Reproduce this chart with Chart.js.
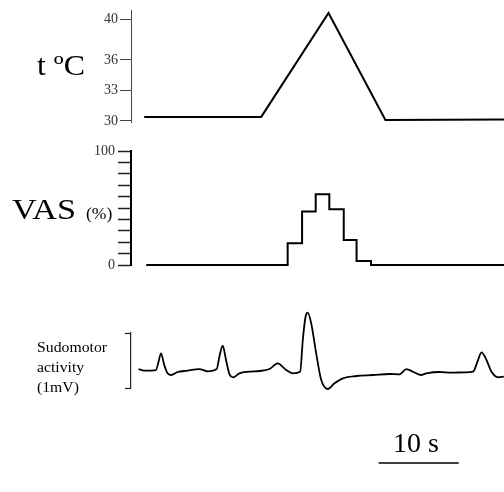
<!DOCTYPE html>
<html>
<head>
<meta charset="utf-8">
<script src="https://cdn.jsdelivr.net/npm/chart.js@4.4.1/dist/chart.umd.min.js"></script>
<style>
  html, body { margin: 0; padding: 0; background: #fff; }
  body { width: 504px; height: 492px; position: relative; overflow: hidden;
         font-family: "Liberation Serif", "Times New Roman", serif; color: #000; }
  canvas { position: absolute; left: 0; }
  .lbl { position: absolute; white-space: nowrap; line-height: 1; transform-origin: left top; }
</style>
</head>
<body>
<canvas id="tempChart" width="504" height="130" style="top:0"></canvas>
<canvas id="vasChart" width="504" height="135" style="top:140px"></canvas>
<canvas id="sudoChart" width="504" height="192" style="top:300px"></canvas>

<div class="lbl" style="left:37px; top:51px; font-size:29px; transform:scaleX(1.1)">t ºC</div>
<div class="lbl" style="left:12px; top:195px; font-size:29px; transform:scaleX(1.18)">VAS</div>
<div class="lbl" style="left:86px; top:206px; font-size:16px; transform:scaleX(1.1)">(%)</div>
<div class="lbl" style="left:37px; top:337px; font-size:15px; line-height:20px; transform:scaleX(1.05)">Sudomotor<br>activity<br>(1mV)</div>
<div class="lbl" style="left:366px; top:429px; width:100px; text-align:center; font-size:28px">10 s</div>

<script>
// time axis in seconds (0 = start of the thermode trace)
const X_MIN = -1.65;
const X_MAX = 44.9;

// thermode temperature (ºC)
const TEMP_TIME = [0, 14.6, 23.0, 30.1, 44.9];
const TEMP_VALUES = [30.4, 30.4, 40.6, 30.1, 30.15];
const TEMP_TICKS = [30, 33, 36, 40];

// pain rating, visual analogue scale (%)
const VAS_TIME = [0.25, 17.9, 19.7, 21.4, 23.1, 24.9, 26.5, 28.3, 44.9];
const VAS_VALUES = [0, 19, 47, 62, 49, 22, 3.5, 0, 0];
const VAS_TICK_LABELS = [0, 100];

// sudomotor activity (mV, bracket = 0..1)
const SUDO_TIME = [-0.71, 0, 1.46, 1.79, 2.09, 2.5, 2.91, 3.34, 4.16, 5.41, 6.88, 7.91, 9.04, 9.38, 9.79,
  10.21, 10.63, 11.13, 11.88, 13.13, 14.38, 15.63, 16.66, 17.71, 18.54, 19.46, 19.79, 20.13, 20.41,
  20.84, 21.46, 22.09, 22.91, 23.75, 24.79, 26.46, 28.54, 30.63, 31.88, 32.71, 33.54, 34.5, 35.21,
  36.88, 38.34, 40.0, 41.04, 41.59, 42.09, 42.71, 43.34, 44.16, 44.88];
const SUDO_VALUES = [0.345, 0.315, 0.327, 0.478, 0.631, 0.418, 0.267, 0.236, 0.291, 0.315, 0.345, 0.304, 0.345, 0.569, 0.769,
  0.509, 0.255, 0.195, 0.267, 0.296, 0.309, 0.345, 0.449, 0.327, 0.267, 0.296, 0.873, 1.296, 1.369,
  1.176, 0.631, 0.145, -0.018, 0.085, 0.176, 0.218, 0.236, 0.255, 0.249, 0.345, 0.296, 0.236, 0.267,
  0.291, 0.278, 0.285, 0.296, 0.478, 0.649, 0.509, 0.296, 0.195, 0.205];

// scale bar
const BAR_START = 29.25;
const BAR_SECONDS = 10;

const AXIS_WIDTH = 131;
const serif = '"Liberation Serif", "Times New Roman", serif';

function points(xs, ys) {
    return xs.map((x, i) => ({ x: x, y: ys[i] }));
}

function xAxis() {
    return { type: 'linear', min: X_MIN, max: X_MAX, display: false };
}

// fixed axis width, and no extra room for the end labels (layout padding gives it)
function fitAxis(scale) {
    scale.width = AXIS_WIDTH;
    scale.paddingTop = 0;
    scale.paddingBottom = 0;
}

const baseOptions = {
    responsive: false,
    animation: false,
    events: [],
    plugins: { legend: { display: false }, tooltip: { enabled: false } },
    elements: { point: { radius: 0 } }
};

// Temperature panel
new Chart(document.getElementById('tempChart'), {
    type: 'line',
    data: {
        datasets: [{
            data: points(TEMP_TIME, TEMP_VALUES),
            borderColor: '#000',
            borderWidth: 2,
            tension: 0,
            clip: false
        }]
    },
    options: {
        ...baseOptions,
        layout: { padding: { top: 10, bottom: 8, left: 0, right: 0 } },
        scales: {
            x: xAxis(),
            y: {
                min: 29.9,
                max: 40.9,
                afterBuildTicks: (scale) => { scale.ticks = TEMP_TICKS.map(v => ({ value: v })); },
                afterFit: fitAxis,
                border: { display: true, color: '#444', width: 1 },
                grid: { drawOnChartArea: false, drawTicks: true, tickLength: 11, tickColor: '#444', tickWidth: 1 },
                ticks: { color: '#333', padding: 2, font: { family: serif, size: 14 }, autoSkip: false }
            }
        }
    }
});

// VAS panel
new Chart(document.getElementById('vasChart'), {
    type: 'line',
    data: {
        datasets: [{
            data: points(VAS_TIME, VAS_VALUES),
            borderColor: '#000',
            borderWidth: 2,
            stepped: true,
            clip: false
        }]
    },
    options: {
        ...baseOptions,
        layout: { padding: { top: 11, bottom: 10, left: 0, right: 0 } },
        scales: {
            x: xAxis(),
            y: {
                min: 0,
                max: 100,
                afterFit: fitAxis,
                border: { display: true, color: '#000', width: 2 },
                grid: { drawOnChartArea: false, drawTicks: true, tickLength: 13, tickColor: '#222', tickWidth: 1.5 },
                ticks: {
                    stepSize: 10,
                    autoSkip: false,
                    color: '#333',
                    padding: 3,
                    font: { family: serif, size: 14 },
                    callback: (v) => VAS_TICK_LABELS.includes(v) ? v : ''
                }
            }
        }
    }
});

// scale bar drawn from the x scale
const scaleBarPlugin = {
    id: 'scaleBar',
    afterDraw(chart) {
        const xs = chart.scales.x;
        const ctx = chart.ctx;
        const x1 = xs.getPixelForValue(BAR_START);
        const x2 = xs.getPixelForValue(BAR_START + BAR_SECONDS);
        ctx.save();
        ctx.strokeStyle = '#000';
        ctx.lineWidth = 1.5;
        ctx.beginPath();
        ctx.moveTo(x1, 163);
        ctx.lineTo(x2, 163);
        ctx.stroke();
        ctx.restore();
    }
};

// Sudomotor panel
new Chart(document.getElementById('sudoChart'), {
    type: 'line',
    data: {
        datasets: [{
            data: points(SUDO_TIME, SUDO_VALUES),
            borderColor: '#000',
            borderWidth: 1.8,
            cubicInterpolationMode: 'monotone',
            clip: false
        }]
    },
    options: {
        ...baseOptions,
        layout: { padding: { top: 33, bottom: 104, left: 0, right: 0 } },
        scales: {
            x: xAxis(),
            y: {
                min: 0,
                max: 1,
                afterBuildTicks: (scale) => { scale.ticks = [{ value: 0 }, { value: 1 }]; },
                afterFit: fitAxis,
                border: { display: true, color: '#222', width: 1.2 },
                grid: { drawOnChartArea: false, drawTicks: true, tickLength: 6, tickColor: '#222', tickWidth: 1.2 },
                ticks: { callback: () => '', padding: 0 }
            }
        }
    },
    plugins: [scaleBarPlugin]
});
</script>
</body>
</html>
